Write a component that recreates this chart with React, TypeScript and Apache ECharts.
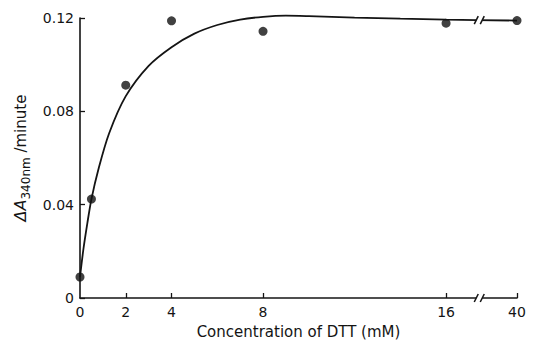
import React, { useEffect, useRef } from "react";
import * as echarts from "echarts";

// Measured data points (concentration of DTT in mM, ΔA340nm/minute)
const CONC = [0, 0.5, 2, 4, 8, 16, 40];
const RATE = [0.009, 0.0424, 0.0912, 0.1188, 0.1143, 0.1178, 0.1189];

// Hand-drawn fitted curve
const CURVE_CONC = [0, 0.15, 0.32, 0.5, 0.8, 1.27, 2, 3, 4, 5, 6, 7, 8, 9, 10, 12, 14, 16, 40];
const CURVE_RATE = [
  0.009, 0.021, 0.032, 0.0424, 0.055, 0.0705, 0.0865, 0.0995, 0.1075, 0.1133, 0.117, 0.1193,
  0.1205, 0.121, 0.1208, 0.1202, 0.1197, 0.1193, 0.1189,
];

// Axis ticks
const X_TICKS = [0, 2, 4, 8, 16, 40];

// Broken axis: values beyond 16 are drawn at a compressed position
const LINEAR_MAX = 16;
const POS_40 = 19.1;
const BREAK_POS = 17.45;
const toAxis = (c: number) => (c <= LINEAR_MAX ? c : POS_40);
const fromAxis = (p: number) => {
  const i = X_TICKS.findIndex((t) => Math.abs(toAxis(t) - p) < 1e-6);
  return i >= 0 ? String(X_TICKS[i]) : "";
};

const INK = "#141414";
const FONT = "DejaVu Sans";

export default function App() {
  const ref = useRef<HTMLDivElement>(null);
  useEffect(() => {
    if (!ref.current) return;
    const chart = echarts.init(ref.current, null, { renderer: "svg" });
    const tickPos = X_TICKS.map(toAxis);
    const breakY = (CURVE_RATE[CURVE_RATE.length - 2] + CURVE_RATE[CURVE_RATE.length - 1]) / 2;
    chart.setOption({
      animation: false,
      backgroundColor: "#ffffff",
      grid: { left: 80, right: 16, top: 18, bottom: 40 },
      xAxis: {
        type: "value",
        min: 0,
        max: POS_40,
        splitLine: { show: false },
        axisLine: { lineStyle: { color: INK, width: 1.6 } },
        axisTick: {
          inside: true,
          length: 5,
          customValues: tickPos.slice(1),
          lineStyle: { color: INK, width: 1.3 },
        },
        axisLabel: {
          customValues: tickPos,
          formatter: (v: number) => fromAxis(v),
          color: INK,
          fontFamily: FONT,
          fontSize: 14,
          margin: 7,
        },
        name: "Concentration of DTT (mM)",
        nameLocation: "middle",
        nameGap: 26,
        nameTextStyle: { color: INK, fontFamily: FONT, fontSize: 15 },
      },
      yAxis: {
        type: "value",
        min: 0,
        max: 0.12,
        interval: 0.04,
        splitLine: { show: false },
        axisLine: { show: true, lineStyle: { color: INK, width: 1.6 } },
        axisTick: { show: true, inside: true, length: 5, lineStyle: { color: INK, width: 1.3 } },
        axisLabel: {
          formatter: (v: number) => (v === 0 ? "0" : v.toFixed(2)),
          color: INK,
          fontFamily: FONT,
          fontSize: 14,
          margin: 6,
        },
        name: "{d|ΔA}{s|340nm}{m| /minute}",
        nameLocation: "middle",
        nameRotate: 90,
        nameGap: 48,
        nameTextStyle: {
          color: INK,
          fontFamily: FONT,
          rich: {
            d: { fontSize: 16, fontFamily: FONT, color: INK, lineHeight: 22, verticalAlign: "middle", fontStyle: "italic" },
            s: { fontSize: 12, fontFamily: FONT, color: INK, lineHeight: 22, verticalAlign: "bottom" },
            m: { fontSize: 15, fontFamily: FONT, color: INK, lineHeight: 22, verticalAlign: "middle" },
          },
        },
      },
      series: [
        {
          type: "line",
          data: CURVE_CONC.map((c, i) => [toAxis(c), CURVE_RATE[i]]),
          smooth: 0.3,
          showSymbol: false,
          clip: false,
          lineStyle: { color: INK, width: 1.8 },
          z: 2,
        },
        {
          type: "scatter",
          data: CONC.map((c, i) => [toAxis(c), RATE[i]]),
          symbol: "circle",
          symbolSize: 9,
          clip: false,
          itemStyle: { color: "#111" },
          z: 4,
        },
        {
          type: "custom",
          data: [
            [BREAK_POS, 0],
            [BREAK_POS, breakY],
          ],
          z: 5,
          renderItem: (params: any, api: any) => {
            const p = api.coord([api.value(0), api.value(1)]);
            const ls = { stroke: INK, lineWidth: 1.5 };
            return {
              type: "group",
              children: [
                { type: "rect", shape: { x: p[0] - 3, y: p[1] - 4, width: 6, height: 8 }, style: { fill: "#fff" } },
                { type: "line", shape: { x1: p[0] - 5, y1: p[1] + 4, x2: p[0] - 1, y2: p[1] - 4 }, style: ls },
                { type: "line", shape: { x1: p[0] + 1, y1: p[1] + 4, x2: p[0] + 5, y2: p[1] - 4 }, style: ls },
              ],
            };
          },
        },
      ],
    });
    return () => chart.dispose();
  }, []);
  return (
    <div
      ref={ref}
      style={{ position: "fixed", left: 0, top: 0, width: 533, height: 344, background: "#fff" }}
    />
  );
}
